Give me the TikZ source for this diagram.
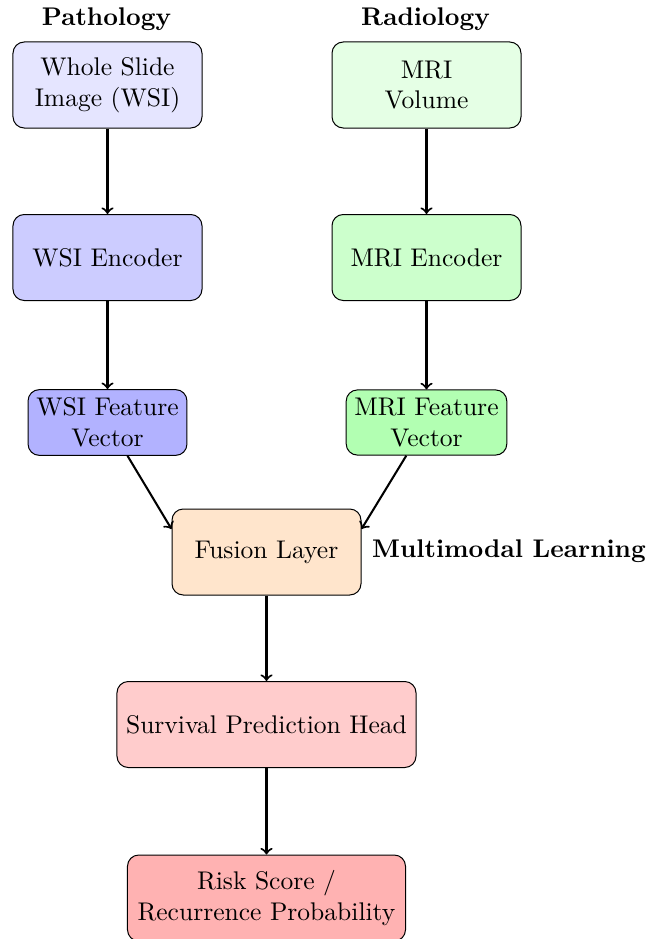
\documentclass[tikz,border=0pt]{standalone}
\usetikzlibrary{arrows}
\tikzset{
  box/.style={draw=black, rounded corners=4.5pt, align=center, inner sep=3.3pt, font=\fontsize{10.22}{12.26}\selectfont},
  bigbox/.style={box, minimum width=75.6pt, minimum height=34.4pt},
  flow/.style={->, line width=0.82pt},
  title/.style={font=\fontsize{10.22}{12.26}\selectfont\bfseries}
}
\begin{document}
\begin{tikzpicture}[x=0.4pt, y=-0.4pt]
\useasboundingbox (0,0) rectangle (662,939);
\node[title] (pathlbl) at (106.5,19) {Pathology};
\node[title] (radlbl) at (425.5,19) {Radiology};
\node[bigbox, fill=blue!10] (wsi) at (107.5,85) {Whole Slide\\Image (WSI)};
\node[bigbox, fill=green!10] (mri) at (426.5,85) {MRI\\Volume};
\node[bigbox, fill=blue!20] (wsienc) at (107.5,257.5) {WSI Encoder};
\node[bigbox, fill=green!20] (mrienc) at (426.5,257.5) {MRI Encoder};
\node[box, fill=blue!30] (wsifeat) at (107.5,422.5) {WSI Feature\\Vector};
\node[box, fill=green!30] (mrifeat) at (426.5,422.5) {MRI Feature\\Vector};
\node[bigbox, fill=orange!20] (fusion) at (266.5,552) {Fusion Layer};
\node[title] (mllbl) at (509,551) {Multimodal Learning};
\node[bigbox, fill=red!20, minimum width=119.6pt] (surv) at (266.5,724.5) {Survival Prediction Head};
\node[bigbox, fill=red!30, minimum width=111.2pt] (risk) at (266.5,898) {Risk Score /\\Recurrence Probability};
\draw[flow] (wsi) -- (wsienc);
\draw[flow] (mri) -- (mrienc);
\draw[flow] (wsienc) -- (wsifeat);
\draw[flow] (mrienc) -- (mrifeat);
\draw[flow] (wsifeat) -- ([yshift=9.2pt]fusion.west);
\draw[flow] (mrifeat) -- ([yshift=9.2pt]fusion.east);
\draw[flow] (fusion) -- (surv);
\draw[flow] (surv) -- (risk);
\end{tikzpicture}
\end{document}
